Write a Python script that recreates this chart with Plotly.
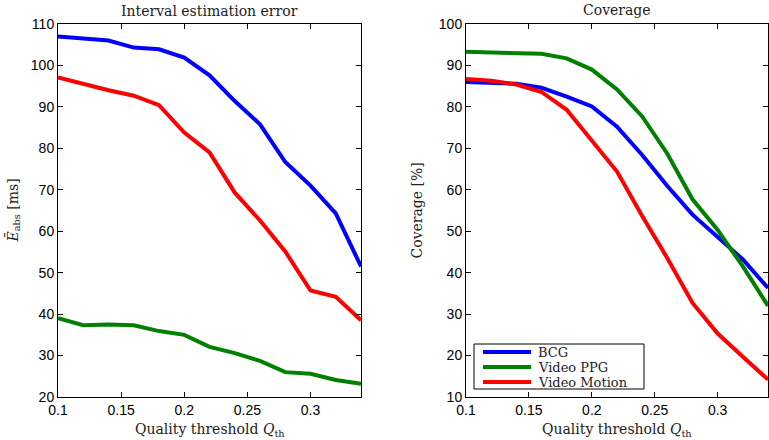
import plotly.graph_objects as go
from plotly.subplots import make_subplots

q_th = [0.10, 0.12, 0.14, 0.16, 0.18, 0.20, 0.22, 0.24, 0.26, 0.28, 0.30, 0.32, 0.34]

# Interval estimation error [ms]
err_bcg = [107.0, 106.5, 106.0, 104.3, 103.9, 101.9, 97.6, 91.4, 85.8, 76.7, 71.0, 64.3, 51.5]
err_ppg = [39.0, 37.3, 37.5, 37.3, 35.9, 35.0, 32.1, 30.6, 28.7, 26.0, 25.6, 24.1, 23.2]
err_motion = [97.1, 95.5, 94.0, 92.7, 90.4, 83.8, 79.0, 69.3, 62.6, 55.1, 45.7, 44.2, 38.5]

# Coverage [%]
cov_bcg = [86.0, 85.8, 85.6, 84.6, 82.5, 80.1, 75.2, 68.4, 60.9, 54.0, 48.5, 43.2, 36.3]
cov_ppg = [93.3, 93.1, 93.1, 92.8, 91.7, 89.0, 84.2, 77.7, 68.7, 57.7, 50.3, 41.5, 32.0]
cov_motion = [86.7, 86.3, 85.4, 83.6, 79.3, 71.7, 64.4, 53.7, 43.5, 32.7, 25.3, 19.7, 14.2]

series_names = ["BCG", "Video PPG", "Video Motion"]
colors = ["#0000FF", "#008000", "#FF0000"]

x_ticks = [0.1, 0.15, 0.2, 0.25, 0.3]
x_tick_labels = ["0.1", "0.15", "0.2", "0.25", "0.3"]

SERIF = "DejaVu Serif, Liberation Serif, serif"
SANS = "Liberation Sans, Arial, Helvetica, sans-serif"

W, H = 769, 440
ML, MR, MT, MB = 58, 1, 24, 43
PW, PH = W - ML - MR, H - MT - MB


def px(xp):
    return (xp - ML) / PW


def py(yp):
    return (H - MB - yp) / PH


fig = make_subplots(rows=1, cols=2, horizontal_spacing=0.0)

for name, color, ys in zip(series_names, colors, [err_bcg, err_ppg, err_motion]):
    fig.add_trace(go.Scatter(x=q_th, y=ys, mode="lines", name=name,
                             line=dict(color=color, width=4), showlegend=False),
                  row=1, col=1)
for name, color, ys in zip(series_names, colors, [cov_bcg, cov_ppg, cov_motion]):
    fig.add_trace(go.Scatter(x=q_th, y=ys, mode="lines", name=name,
                             line=dict(color=color, width=4), showlegend=False),
                  row=1, col=2)

axis_common = dict(showline=True, linecolor="black", linewidth=1, mirror="ticks",
                   ticks="inside", ticklen=5, tickcolor="black", showgrid=False,
                   zeroline=False, tickfont=dict(family=SANS, size=14, color="black"))

fig.update_xaxes(range=[0.1, 0.34], tickvals=x_ticks, ticktext=x_tick_labels, **axis_common)
fig.update_yaxes(**axis_common)
fig.update_xaxes(domain=[0.0, px(361)], row=1, col=1)
fig.update_xaxes(domain=[px(466), 1.0], row=1, col=2)
fig.update_yaxes(range=[20, 110], dtick=10, row=1, col=1)
fig.update_yaxes(range=[10, 100], dtick=10, row=1, col=2)

ann_font = dict(family=SERIF, size=14, color="#222222")
cl = (px(58) + px(361)) / 2
cr = (px(466) + 1.0) / 2
annotations = [
    dict(text="Interval estimation error", x=cl, y=py(11), xref="paper", yref="paper",
         xanchor="center", yanchor="middle", showarrow=False, font=ann_font),
    dict(text="Coverage", x=cr, y=py(10), xref="paper", yref="paper",
         xanchor="center", yanchor="middle", showarrow=False, font=ann_font),
    dict(text="Quality threshold <i>Q</i><sub>th</sub>", x=cl, y=py(430), xref="paper", yref="paper",
         xanchor="center", yanchor="middle", showarrow=False, font=ann_font),
    dict(text="Quality threshold <i>Q</i><sub>th</sub>", x=cr, y=py(430), xref="paper", yref="paper",
         xanchor="center", yanchor="middle", showarrow=False, font=ann_font),
    dict(text="<i>Ē</i><sub>abs</sub> [ms]", x=px(13), y=0.5, xref="paper", yref="paper",
         xanchor="center", yanchor="middle", textangle=-90, showarrow=False, font=ann_font),
    dict(text="Coverage [%]", x=px(416), y=0.5, xref="paper", yref="paper",
         xanchor="center", yanchor="middle", textangle=-90, showarrow=False, font=ann_font),
]

# legend drawn as a box with line samples and labels
shapes = [dict(type="rect", xref="paper", yref="paper", x0=px(474), x1=px(644),
               y0=py(389), y1=py(344), line=dict(color="black", width=1),
               fillcolor="white", layer="above")]
row_y = [352, 367, 382]
for name, color, ry in zip(series_names, colors, row_y):
    shapes.append(dict(type="line", xref="paper", yref="paper", x0=px(483), x1=px(531),
                       y0=py(ry), y1=py(ry), line=dict(color=color, width=4), layer="above"))
    annotations.append(dict(text=name, x=px(536), y=py(ry), xref="paper", yref="paper",
                            xanchor="left", yanchor="middle", showarrow=False,
                            font=dict(family=SERIF, size=13, color="#222222")))

fig.update_layout(
    width=W, height=H,
    margin=dict(l=ML, r=MR, t=MT, b=MB),
    paper_bgcolor="white", plot_bgcolor="white",
    annotations=annotations,
    shapes=shapes,
    showlegend=False,
)

fig.write_html("out.html", config={"displayModeBar": False},
               post_script="document.body.style.margin='0';document.body.style.overflow='hidden';")
